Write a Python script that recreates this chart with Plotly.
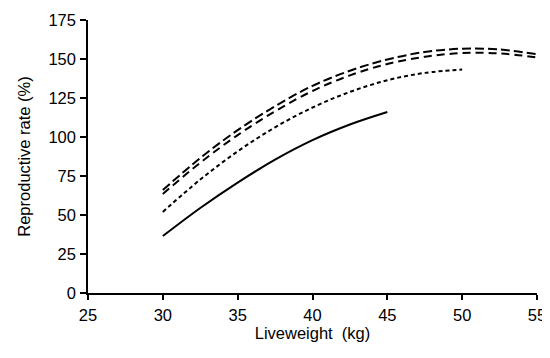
import plotly.graph_objects as go

# Liveweight (kg) sample points and reproductive rate (%)
x_upper = [30, 32.5, 35, 37.5, 40, 42.5, 45, 47.5, 50, 52.5, 55]
y_upper = [66, 86.5, 104.4, 119.7, 132.8, 142.5, 149.7, 154.5, 156.6, 156.1, 153]

x_lower = [30, 32.5, 35, 37.5, 40, 42.5, 45, 47.5, 50, 52.5, 55]
y_lower = [63.5, 83.5, 101.2, 116.5, 129.5, 139.5, 146.8, 151.4, 153.8, 153.6, 151]

x_short = [30, 32.5, 35, 37.5, 40, 42.5, 45, 47.5, 50]
y_short = [52, 72.7, 90.8, 106.2, 118.9, 128.9, 136.4, 141.1, 143.2]

x_solid = [30, 32.5, 35, 37.5, 40, 42.5, 45]
y_solid = [36.5, 54.5, 70.8, 85.5, 98, 108, 116]

x_ticks = [25, 30, 35, 40, 45, 50, 55]
y_ticks = [0, 25, 50, 75, 100, 125, 150, 175]

FONT = "Liberation Sans, Arial, sans-serif"

fig = go.Figure()
fig.add_trace(go.Scatter(x=x_upper, y=y_upper, mode="lines", line_shape="spline",
                         line=dict(color="black", width=2, dash="9px,4px")))
fig.add_trace(go.Scatter(x=x_lower, y=y_lower, mode="lines", line_shape="spline",
                         line=dict(color="black", width=2, dash="8px,5px")))
fig.add_trace(go.Scatter(x=x_short, y=y_short, mode="lines", line_shape="spline",
                         line=dict(color="black", width=2, dash="4px,3px")))
fig.add_trace(go.Scatter(x=x_solid, y=y_solid, mode="lines", line_shape="spline",
                         line=dict(color="black", width=2)))

# the page body has an 8px margin, so the figure is 8px smaller and shifted
fig.update_layout(
    width=542, height=350,
    margin=dict(l=80, r=13, t=12, b=65),
    paper_bgcolor="white", plot_bgcolor="white",
    showlegend=False,
    font=dict(family=FONT, size=16.5, color="black"),
    xaxis=dict(
        range=[25, 55], tickvals=x_ticks, ticktext=[str(v) for v in x_ticks],
        showgrid=False, zeroline=False, showline=True, linecolor="black", linewidth=1.5,
        ticks="outside", ticklen=5, tickwidth=1.5, tickcolor="black",
        ticklabelstandoff=1,
        title=dict(text="Liveweight  (kg)", standoff=5, font=dict(size=16.5)),
        automargin=False,
    ),
    yaxis=dict(
        range=[0, 175], tickvals=y_ticks, ticktext=[str(v) for v in y_ticks],
        showgrid=False, zeroline=False, showline=True, linecolor="black", linewidth=1.5,
        ticks="outside", ticklen=6, tickwidth=1.5, tickcolor="black",
        ticklabelstandoff=1,
        title=dict(text="Reproductive rate (%)", standoff=14, font=dict(size=16.5)),
        automargin=False,
    ),
)

fig.write_html("out.html")
